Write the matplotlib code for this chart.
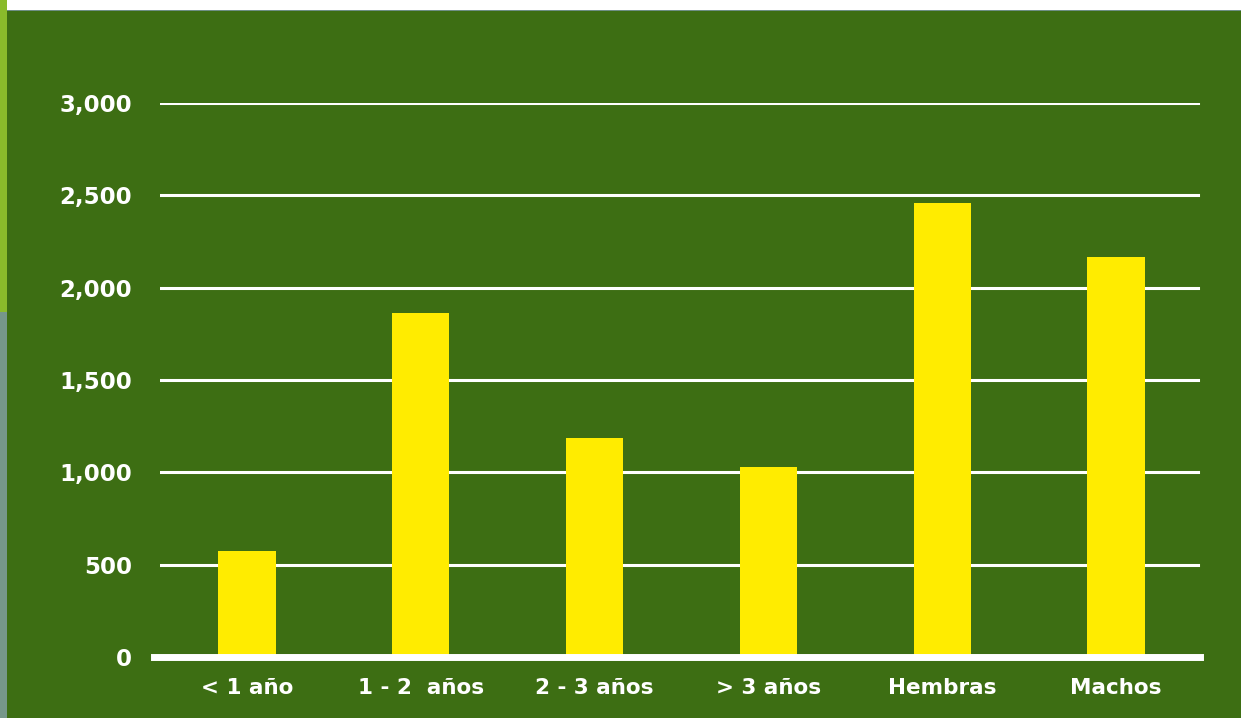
import matplotlib
matplotlib.use("Agg")
import matplotlib.pyplot as plt
from matplotlib.patches import Rectangle

categories = ["< 1 año", "1 - 2  años", "2 - 3 años", "> 3 años", "Hembras", "Machos"]
values = [575, 1862, 1188, 1027, 2457, 2168]
yticks = [0, 500, 1000, 1500, 2000, 2500, 3000]
ytick_labels = ["0", "500", "1,000", "1,500", "2,000", "2,500", "3,000"]

W, H = 1241, 718
fig = plt.figure(figsize=(W / 100, H / 100), dpi=100)
fig.patch.set_facecolor("#3d6e13")

# decorative strips
fig.patches.append(Rectangle((0, 1 - 10 / H), 1, 10 / H, transform=fig.transFigure,
                             facecolor="white", edgecolor="none", zorder=0))
fig.patches.append(Rectangle((0, 1 - 11 / H), 1, 1.5 / H, transform=fig.transFigure,
                             facecolor="#6f8f86", edgecolor="none", zorder=0))
fig.patches.append(Rectangle((0, 1 - 312 / H), 7 / W, 312 / H, transform=fig.transFigure,
                             facecolor="#8abb2b", edgecolor="none", zorder=0))
fig.patches.append(Rectangle((0, 0), 7 / W, 1 - 312 / H, transform=fig.transFigure,
                             facecolor="#76978a", edgecolor="none", zorder=0))

ax = fig.add_axes([160 / W, 61 / H, (1203 - 160) / W, (657 - 103) / H])
ax.set_facecolor("none")
x = list(range(len(categories)))
ax.bar(x, values, width=0.33, color="#ffec00", zorder=2)
ax.set_xlim(-0.5, len(categories) - 0.5)
ax.set_ylim(0, 3000)

for t in yticks[1:]:
    ax.axhline(t, xmax=0.995, color="white", linewidth=2.2, zorder=1)
ax.axhline(0, xmin=-0.006, xmax=0.997, color="white", linewidth=5, zorder=3, clip_on=False)

for s in ax.spines.values():
    s.set_visible(False)
ax.set_yticks(yticks)
ax.set_yticklabels(ytick_labels)
ax.set_xticks(x)
ax.set_xticklabels(categories)
ax.tick_params(axis="both", length=0, colors="white")
ax.tick_params(axis="y", pad=20, labelsize=16.5)
ax.tick_params(axis="x", pad=15, labelsize=15.5)
for lab in ax.get_xticklabels() + ax.get_yticklabels():
    lab.set_fontweight("bold")
    lab.set_family("DejaVu Sans")

fig.savefig("out.png", dpi=100, facecolor=fig.get_facecolor())
